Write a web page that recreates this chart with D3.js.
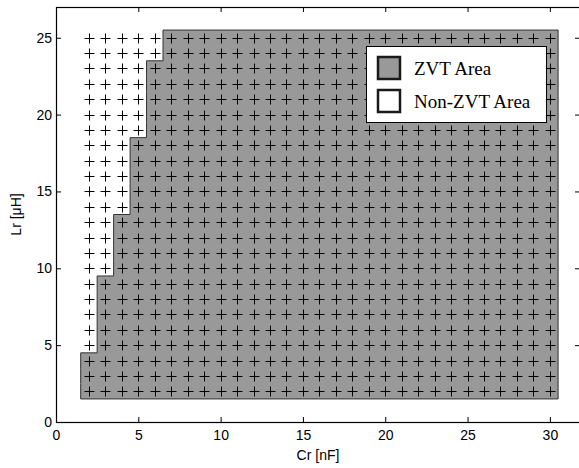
<!DOCTYPE html>
<html>
<head>
<meta charset="utf-8">
<script src="https://cdn.jsdelivr.net/npm/d3@7"></script>
<style>
  body { margin: 0; background: #fff; }
  svg { display: block; }
  .tick text { font-family: "Liberation Sans", Arial, sans-serif; font-size: 14px; fill: #000; }
  .tick line { stroke: #000; }
</style>
</head>
<body>
<svg width="579" height="468"></svg>
<script>
// sampled grid of the sweep
var crValues = [2, 3, 4, 5, 6, 7, 8, 9, 10, 11, 12, 13, 14, 15, 16, 17, 18, 19, 20,
                21, 22, 23, 24, 25, 26, 27, 28, 29, 30];
var lrValues = [2, 3, 4, 5, 6, 7, 8, 9, 10, 11, 12, 13, 14, 15, 16, 17, 18, 19, 20,
                21, 22, 23, 24, 25];
// smallest Cr that gives ZVT, for each Lr row above
var zvtMinCr = [2, 2, 2, 3, 3, 3, 3, 3, 4, 4, 4, 4, 5, 5, 5, 5, 5, 6, 6,
                6, 6, 6, 7, 7];
var xTicks = [0, 5, 10, 15, 20, 25, 30];
var yTicks = [0, 5, 10, 15, 20, 25];
var legendItems = ["ZVT Area", "Non-ZVT Area"];

var margin = { top: 7, left: 56, right: 580, bottom: 422 };

var x = d3.scaleLinear().domain([0, 31.83]).range([margin.left, margin.right]);
var y = d3.scaleLinear().domain([0, 27]).range([margin.bottom, margin.top]);

var svg = d3.select("svg");
var gray = "#999999";

// build the staircase outline of the ZVT region
var step = 0.5;
var pts = [];
var crMax = d3.max(crValues), lrMin = d3.min(lrValues), lrMax = d3.max(lrValues);
pts.push([crMax + step, lrMin - step]);
pts.push([crMax + step, lrMax + step]);
for (var i = lrValues.length - 1; i >= 0; i--) {
    pts.push([zvtMinCr[i] - step, lrValues[i] + step]);
    pts.push([zvtMinCr[i] - step, lrValues[i] - step]);
}
var line = d3.line()
    .x(function (d) { return x(d[0]); })
    .y(function (d) { return y(d[1]); });

svg.append("path")
    .attr("d", line(pts) + "Z")
    .attr("fill", gray)
    .attr("stroke", "#333")
    .attr("stroke-width", 1);

// plus markers on every grid point
var grid = [];
lrValues.forEach(function (lr) {
    crValues.forEach(function (cr) { grid.push({ cr: cr, lr: lr }); });
});
var h = 5;
svg.append("path")
    .attr("d", grid.map(function (d) {
        var px = Math.round(x(d.cr)) + 0.5, py = Math.round(y(d.lr)) + 0.5;
        return "M" + (px - h) + "," + py + "h" + (2 * h) +
               "M" + px + "," + (py - h) + "v" + (2 * h);
    }).join(""))
    .attr("stroke", "#000")
    .attr("stroke-width", 1)
    .attr("fill", "none");

// axes, ticks inside like matlab
svg.append("g")
    .attr("transform", "translate(0," + margin.bottom + ")")
    .call(d3.axisBottom(x).tickValues(xTicks).tickSize(-5).tickPadding(8))
    .call(function (g) { g.select(".domain").remove(); });
svg.append("g")
    .attr("transform", "translate(" + margin.left + ",0)")
    .call(d3.axisLeft(y).tickValues(yTicks).tickSize(-5).tickPadding(4))
    .call(function (g) { g.select(".domain").remove(); });
svg.append("g")
    .attr("transform", "translate(0," + margin.top + ")")
    .call(d3.axisTop(x).tickValues(xTicks).tickSize(-5).tickFormat(""))
    .call(function (g) { g.select(".domain").remove(); });
svg.append("g")
    .attr("transform", "translate(" + margin.right + ",0)")
    .call(d3.axisRight(y).tickValues(yTicks).tickSize(-5).tickFormat(""))
    .call(function (g) { g.select(".domain").remove(); });

svg.append("rect")
    .attr("x", margin.left + 0.5)
    .attr("y", margin.top + 0.5)
    .attr("width", margin.right - margin.left)
    .attr("height", margin.bottom - margin.top)
    .attr("fill", "none")
    .attr("stroke", "#000")
    .attr("stroke-width", 1.2);

// axis titles
svg.append("text")
    .text("Cr [nF]")
    .attr("x", (margin.left + margin.right) / 2)
    .attr("y", 460)
    .attr("text-anchor", "middle")
    .style("font-family", "Liberation Sans, Arial, sans-serif")
    .style("font-size", "14px");

svg.append("text")
    .text("Lr [μH]")
    .attr("transform", "translate(21," + (margin.top + margin.bottom) / 2 + ") rotate(-90)")
    .attr("text-anchor", "middle")
    .style("font-family", "Liberation Sans, Arial, sans-serif")
    .style("font-size", "14px");

// legend
var legend = svg.append("g").attr("transform", "translate(366,46)");
legend.append("rect")
    .attr("x", 0.5).attr("y", 0.5)
    .attr("width", 180).attr("height", 76)
    .attr("fill", "#fff")
    .attr("stroke", "#000")
    .attr("stroke-width", 1);

var item = legend.selectAll("g.item")
    .data(legendItems)
    .enter().append("g")
    .attr("class", "item")
    .attr("transform", function (d, i) { return "translate(0," + (i * 33) + ")"; });

item.append("rect")
    .attr("x", 12).attr("y", 11)
    .attr("width", 22).attr("height", 22)
    .attr("fill", function (d, i) { return i === 0 ? gray : "#fff"; })
    .attr("stroke", "#1a1a1a")
    .attr("stroke-width", 2.5);

item.append("text")
    .text(function (d) { return d; })
    .attr("x", 48)
    .attr("y", 29)
    .style("font-family", "Liberation Serif, Times New Roman, serif")
    .style("font-size", "19px");
</script>
</body>
</html>
